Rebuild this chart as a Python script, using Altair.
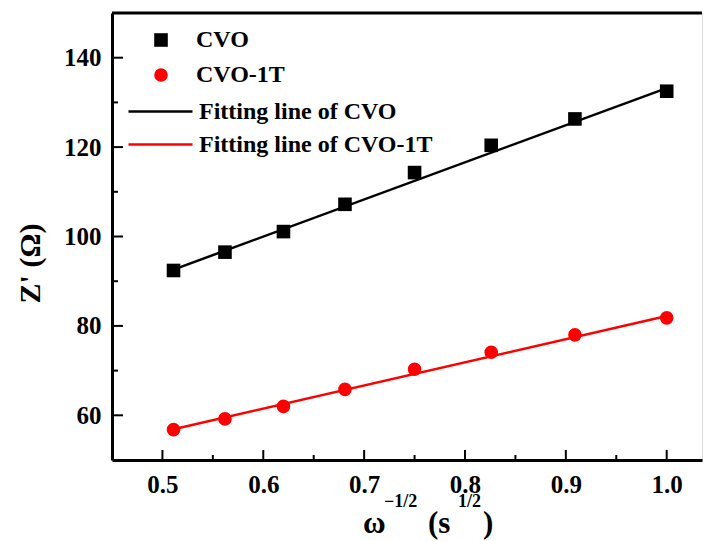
import altair as alt
import pandas as pd

# ---- data ----
x_vals = [0.511, 0.562, 0.620, 0.681, 0.750, 0.826, 0.909, 1.000]
cvo = [92.4, 96.5, 101.1, 107.2, 114.3, 120.4, 126.3, 132.5]
cvo_1t = [56.8, 59.2, 62.0, 65.8, 70.3, 74.1, 78.0, 81.8]

fit_x = [0.511, 1.000]
fit_cvo = [92.6, 133.2]
fit_cvo_1t = [56.9, 82.2]

x_major = [0.5, 0.6, 0.7, 0.8, 0.9, 1.0]
x_minor = [0.55, 0.65, 0.75, 0.85, 0.95]
y_major = [60, 80, 100, 120, 140]
y_minor = [70, 90, 110, 130]

series_names = ["CVO", "CVO-1T"]
fit_names = ["Fitting line of CVO", "Fitting line of CVO-1T"]
colors = ["#000000", "#ff0000"]

FONT = "Liberation Serif"
W, H = 590, 447

pts = pd.DataFrame(
    {"x": x_vals * 2, "y": cvo + cvo_1t,
     "series": [series_names[0]] * len(x_vals) + [series_names[1]] * len(x_vals)}
)
fit1 = pd.DataFrame({"x": fit_x, "y": fit_cvo, "fit": [fit_names[0]] * 2})
fit2 = pd.DataFrame({"x": fit_x, "y": fit_cvo_1t, "fit": [fit_names[1]] * 2})

xscale = alt.Scale(domain=[0.45, 1.035], nice=False, zero=False)
yscale = alt.Scale(domain=[50, 150], nice=False, zero=False)

x_axis = alt.Axis(values=x_major, format=".1f", title=None, ticks=False, tickSize=0,
                  grid=False, domainWidth=3, domainColor="black",
                  labelFont=FONT, labelFontWeight="bold", labelFontSize=25,
                  labelColor="black", labelPadding=12)
y_axis = alt.Axis(values=y_major, format="d", title="Z' (Ω)", ticks=False, tickSize=0,
                  grid=False, domainWidth=3, domainColor="black",
                  labelFont=FONT, labelFontWeight="bold", labelFontSize=25,
                  labelColor="black", labelPadding=11,
                  titleFont=FONT, titleFontWeight="bold", titleFontSize=30,
                  titleColor="black", titleX=-82, titleY=250,
                  titleBaseline="middle", titleAngle=270)


def line_legend(y):
    return alt.Legend(title=None, orient="none", legendX=15, legendY=y,
                      symbolType="stroke", symbolSize=4096,
                      symbolStrokeWidth=2.5, labelOffset=5, padding=0,
                      labelFont=FONT, labelFontWeight="bold",
                      labelFontSize=24, labelColor="black", labelLimit=400)


pt_legend = alt.Legend(title=None, orient="none", legendX=37, legendY=15,
                       symbolSize=185, labelOffset=23, rowPadding=11,
                       padding=0, labelFont=FONT, labelFontWeight="bold",
                       labelFontSize=24, labelColor="black",
                       labelLimit=400)

line1 = alt.Chart(fit1).mark_line(strokeWidth=2.5).encode(
    x=alt.X("x:Q", scale=xscale, axis=x_axis),
    y=alt.Y("y:Q", scale=yscale, axis=y_axis),
    stroke=alt.Stroke("fit:N", scale=alt.Scale(domain=[fit_names[0]], range=[colors[0]]),
                      legend=line_legend(65)),
)
line2 = alt.Chart(fit2).mark_line(strokeWidth=2.5).encode(
    x=alt.X("x:Q", scale=xscale),
    y=alt.Y("y:Q", scale=yscale),
    color=alt.Color("fit:N", scale=alt.Scale(domain=[fit_names[1]], range=[colors[1]]),
                    legend=line_legend(98)),
)

points = alt.Chart(pts).mark_point(filled=True, size=185, opacity=1).encode(
    x=alt.X("x:Q", scale=xscale),
    y=alt.Y("y:Q", scale=yscale),
    fill=alt.Fill("series:N", scale=alt.Scale(domain=series_names, range=colors),
                  legend=pt_legend),
    shape=alt.Shape("series:N", scale=alt.Scale(domain=series_names, range=["square", "circle"]),
                    legend=pt_legend),
)

xt_major = alt.Chart(pd.DataFrame({"t": x_major})).mark_rule(color="black", strokeWidth=2).encode(
    x=alt.X("t:Q", scale=xscale), y=alt.value(H - 10), y2=alt.value(H))
xt_minor = alt.Chart(pd.DataFrame({"t": x_minor})).mark_rule(color="black", strokeWidth=2).encode(
    x=alt.X("t:Q", scale=xscale), y=alt.value(H - 5), y2=alt.value(H))
yt_major = alt.Chart(pd.DataFrame({"t": y_major})).mark_rule(color="black", strokeWidth=2).encode(
    y=alt.Y("t:Q", scale=yscale), x=alt.value(0), x2=alt.value(11))
yt_minor = alt.Chart(pd.DataFrame({"t": y_minor})).mark_rule(color="black", strokeWidth=2).encode(
    y=alt.Y("t:Q", scale=yscale), x=alt.value(0), x2=alt.value(6))

top_border = alt.Chart(alt.Data(values=[{}])).mark_rule(color="black", strokeWidth=3).encode(
    x=alt.value(0), x2=alt.value(W), y=alt.value(0))


def txt(s, x, y, size):
    return alt.Chart(alt.Data(values=[{}])).mark_text(
        text=s, font=FONT, fontWeight="bold", fontSize=size, color="black",
        align="left", baseline="alphabetic").encode(x=alt.value(x), y=alt.value(y))


xtitle = (txt("ω", 251, 520, 31) + txt("−1/2", 272, 494, 18) + txt("(s", 316, 520, 31)
          + txt("1/2", 346, 494, 18) + txt(")", 371, 520, 31))

chart = alt.layer(
    line1, line2, points, xt_major, xt_minor, yt_major, yt_minor, top_border, xtitle
).properties(
    width=W, height=H,
    padding={"left": 104, "top": 5, "right": 1, "bottom": 80},
    autosize=alt.AutoSizeParams(type="none"),
).configure_view(stroke=None).configure(background="white")

chart.save("out.html", embed_options={"renderer": "svg", "actions": False})
